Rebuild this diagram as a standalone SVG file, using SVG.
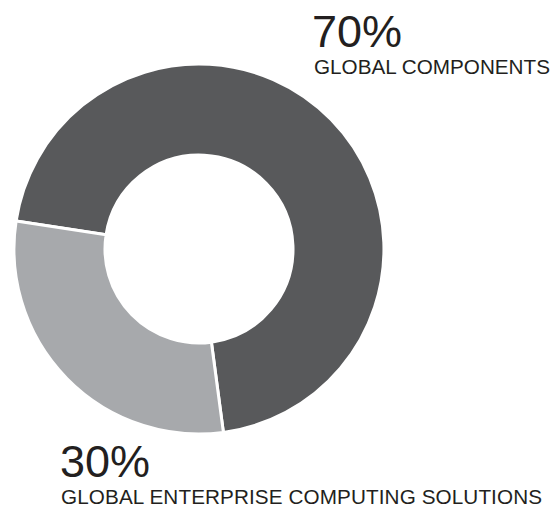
<svg xmlns="http://www.w3.org/2000/svg" width="553" height="508" viewBox="0 0 553 508">
<style>
.big{font-family:"Liberation Sans",Arial,sans-serif;font-size:45px;fill:#231f20}
.lbl{font-family:"Liberation Sans",Arial,sans-serif;font-size:20.7px;fill:#231f20}
.seg{stroke:#ffffff;stroke-width:3;stroke-linejoin:miter}
</style>
<rect width="553" height="508" fill="#ffffff"/>
<g id="segment-70">
<path class="seg" fill="#58595b" d="M 16.1 220.9 A 185 185 0 1 1 223.4 432.4 L 211.4 342.2 A 94 94 0 1 0 106.1 234.7 Z"/>
</g>
<g id="segment-30">
<path class="seg" fill="#a7a9ac" d="M 223.4 432.4 A 185 185 0 0 1 16.1 220.9 L 106.1 234.7 A 94 94 0 0 0 211.4 342.2 Z"/>
</g>
<g id="label-70">
<text class="big" x="312" y="47">70%</text>
<text class="lbl" x="314" y="74" textLength="236" lengthAdjust="spacing">GLOBAL COMPONENTS</text>
</g>
<g id="label-30">
<text class="big" x="60" y="477">30%</text>
<text class="lbl" x="61" y="504" textLength="481" lengthAdjust="spacing">GLOBAL ENTERPRISE COMPUTING SOLUTIONS</text>
</g>
</svg>
